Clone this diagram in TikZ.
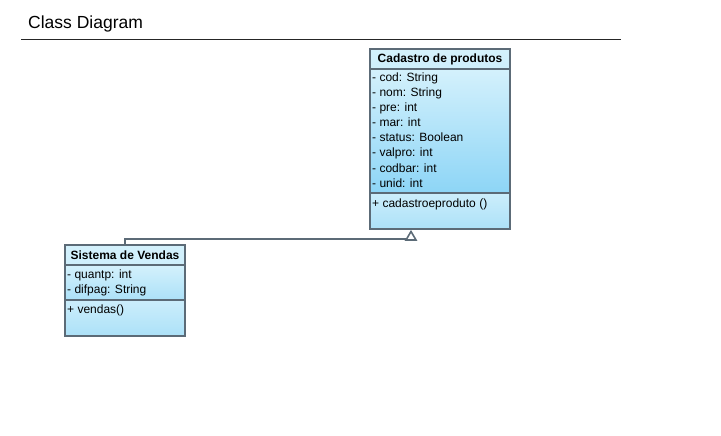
\documentclass[tikz,border=0pt]{standalone}
\usepackage{fontspec}
\setmainfont{Liberation Sans}
\usetikzlibrary{arrows.meta,calc}
\definecolor{umlborder}{HTML}{5C6B77}
\definecolor{umllight}{HTML}{D4F1FC}
\definecolor{umldark}{HTML}{8DD5F6}
\definecolor{umlmid}{HTML}{ACE1F8}
\tikzset{
  classbox/.style={draw=umlborder, line width=2pt, inner sep=0pt},
  sepline/.style={draw=umlborder, line width=2pt},
  hdr/.style={font=\fontsize{12}{14}\selectfont\bfseries, inner sep=0pt, anchor=base},
  member/.style={font=\fontsize{12}{14}\selectfont, anchor=base west, inner sep=0pt},
  gen/.style={draw=umlborder, line width=2pt},
  gentip/.style={draw=umlborder, fill=white, line width=1.6pt, line join=miter},
}
\begin{document}
\begin{tikzpicture}[x=1pt,y=-1pt]
\useasboundingbox (0,0) rectangle (721,436);
% title
\node[anchor=base west, inner sep=0pt, font=\fontsize{17.5}{20}\selectfont] (title) at (28,29) {Class Diagram};
\draw[line width=1pt, black!85] (21,40) coordinate (tl) -- (621,40) coordinate (tr);

% Cadastro de produtos
\shade[top color=umllight, bottom color=umllight!85!umlmid] (370,49) rectangle (510,69);
\shade[top color=umllight, bottom color=umldark] (370,69) rectangle (510,193);
\shade[top color=umllight!80!umlmid, bottom color=umlmid] (370,193) rectangle (510,229);
\node[classbox, minimum width=140pt, minimum height=180pt] (cad) at (440,139) {};
\draw[sepline] (370,69) -- (510,69);
\draw[sepline] (370,193) -- (510,193);
\node[hdr] (cadh) at (440,63) {Cadastro de produtos};
\node[member] (c1) at (372,82) {- cod: String};
\node[member] (c2) at (372,97) {- nom: String};
\node[member] (c3) at (372,112) {- pre: int};
\node[member] (c4) at (372,127) {- mar: int};
\node[member] (c5) at (372,142) {- status: Boolean};
\node[member] (c6) at (372,157) {- valpro: int};
\node[member] (c7) at (372,172) {- codbar: int};
\node[member] (c8) at (372,187) {- unid: int};
\node[member] (c9) at (372,207) {+ cadastroeproduto ()};

% Sistema de Vendas
\shade[top color=umllight, bottom color=umllight!85!umlmid] (65,245) rectangle (185,265);
\shade[top color=umllight, bottom color=umlmid] (65,265) rectangle (185,300);
\shade[top color=umllight!80!umlmid, bottom color=umlmid] (65,300) rectangle (185,336);
\node[classbox, minimum width=120pt, minimum height=91pt] (sis) at (125,290.5) {};
\draw[sepline] (65,265) -- (185,265);
\draw[sepline] (65,300) -- (185,300);
\node[hdr] (sish) at (125,259) {Sistema de Vendas};
\node[member] (s1) at (67,278) {- quantp: int};
\node[member] (s2) at (67,293) {- difpag: String};
\node[member] (s3) at (67,313) {+ vendas()};

% generalization
\coordinate (tip) at ($(cad.south west)+(42,1.5)$);
\coordinate (base) at ($(tip)+(0,8.5)$);
\draw[gen] (sis.north) |- ($(base)+(0,-1.5)$);
\draw[gentip] (tip) -- ($(base)+(-5,0)$) -- ($(base)+(5,0)$) -- cycle;
\end{tikzpicture}
\end{document}
